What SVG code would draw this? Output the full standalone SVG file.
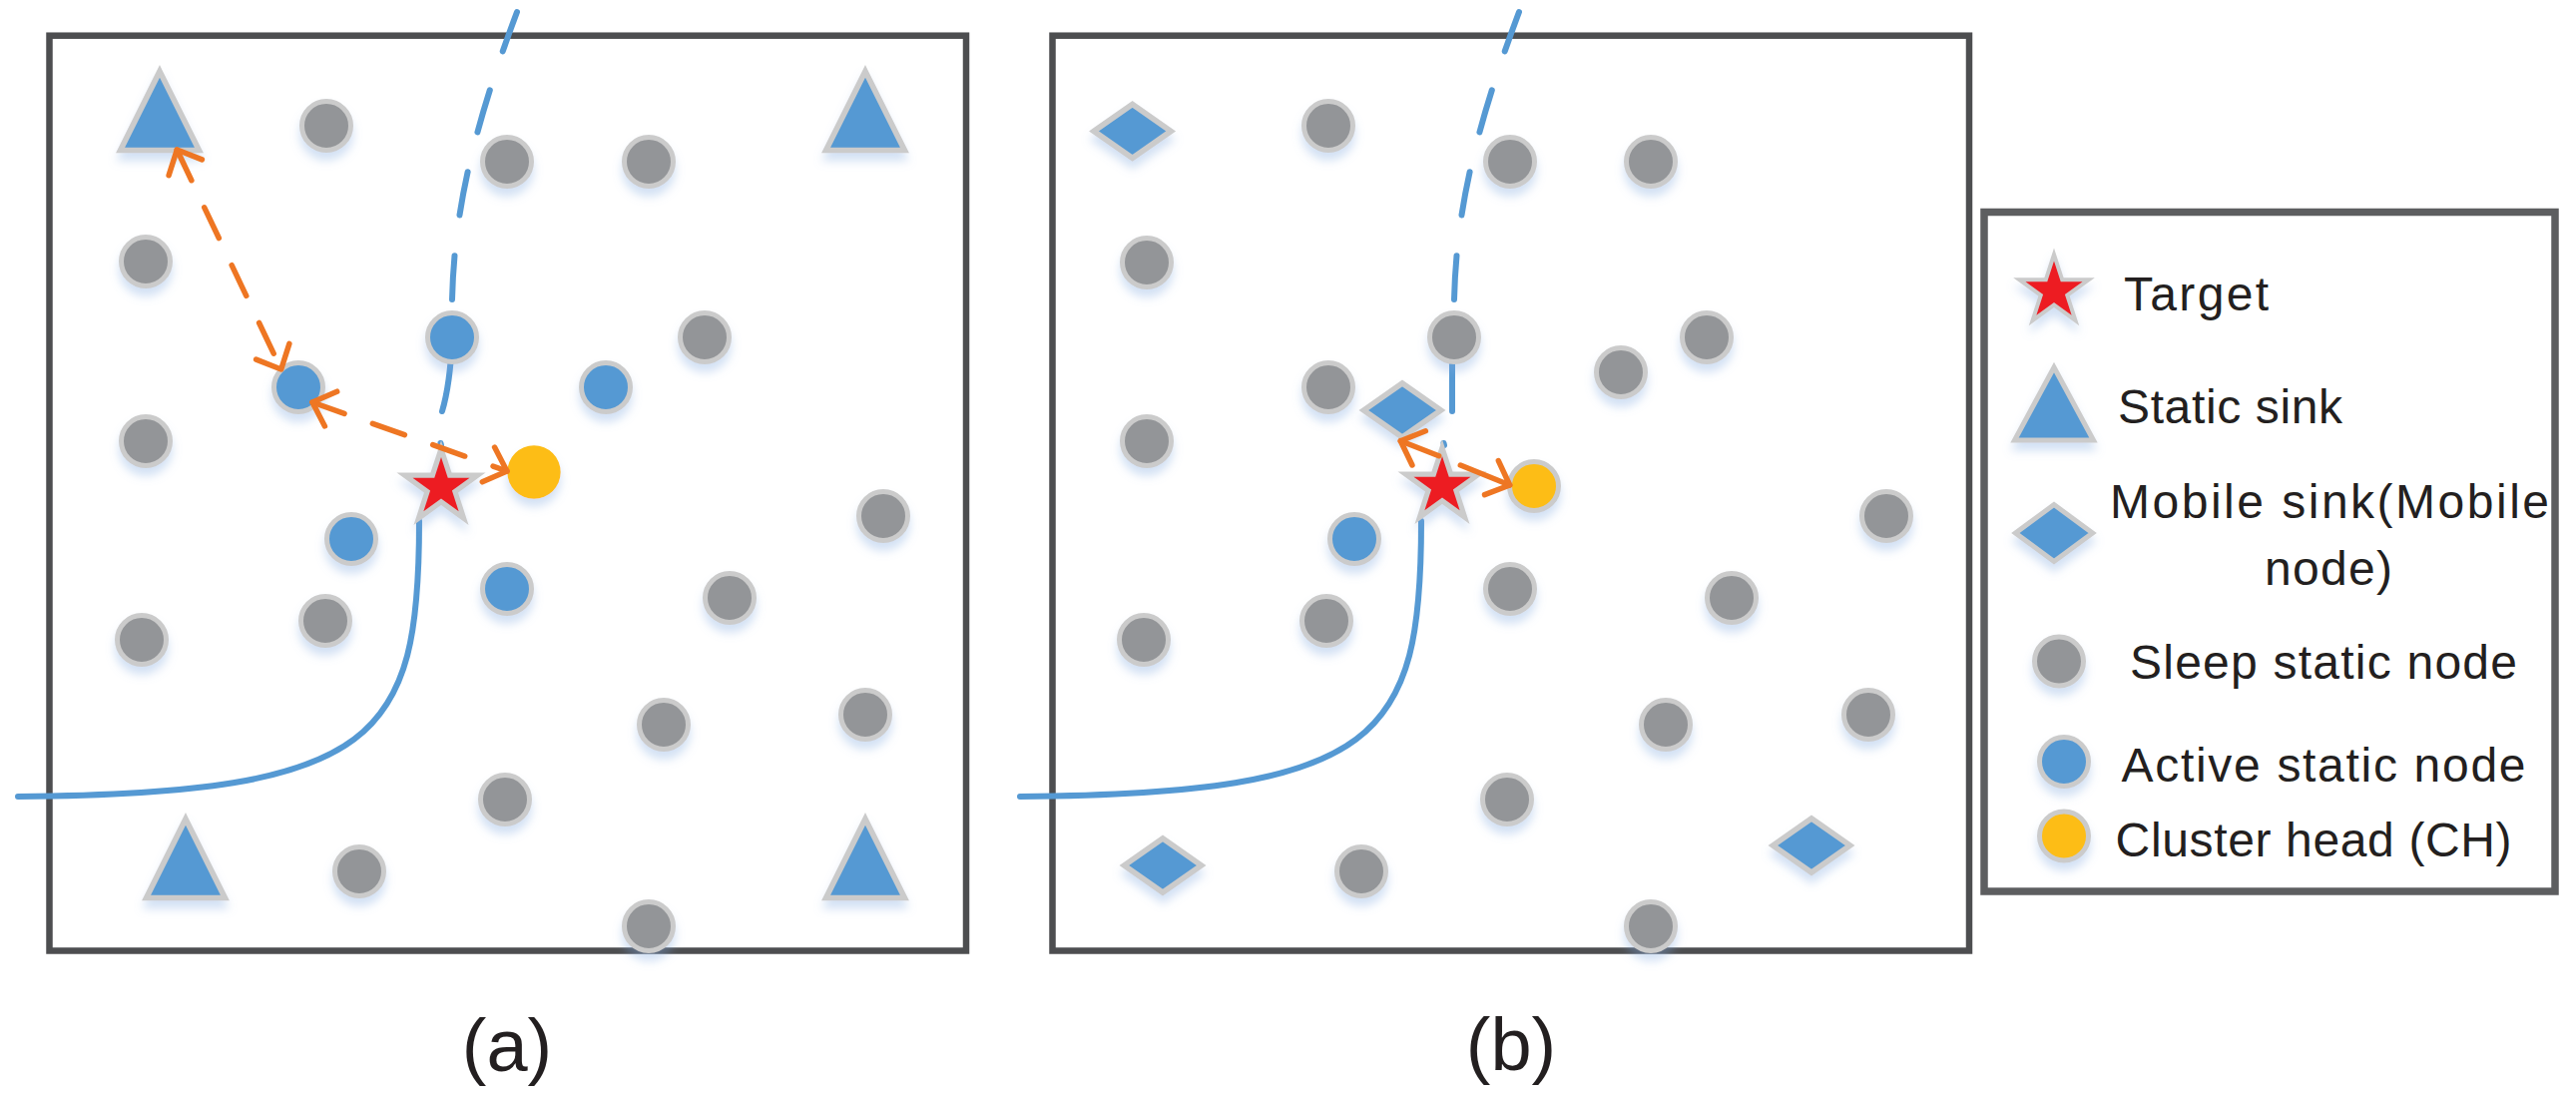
<svg xmlns="http://www.w3.org/2000/svg" width="2581" height="1102" viewBox="0 0 2581 1102">
<defs>
<style>
.frame{fill:none;stroke:#4d4e50;stroke-width:6.5}
.lframe{fill:none;stroke:#5d5e60;stroke-width:7.5}
.sleep{fill:#939598;stroke:#cbcbcb;stroke-width:5;filter:url(#sh)}
.active{fill:#5599d3;stroke:#cbcbcb;stroke-width:5;filter:url(#sh)}
.ch{fill:#fdbd13;filter:url(#sh)}
.ch2{fill:#fdbd13;stroke:#cbcbcb;stroke-width:5;filter:url(#sh)}
.sink{fill:#5599d3;stroke:#cbcbcb;stroke-width:5.6;filter:url(#sh)}
.target{fill:#ed1c24;stroke:#cbcbcb;stroke-width:10.4;paint-order:stroke;filter:url(#sh)}
.ltarget{fill:#ed1c24;stroke:#cbcbcb;stroke-width:8;paint-order:stroke;filter:url(#sh)}
.traj{fill:none;stroke:#5599d3;stroke-width:6;stroke-linecap:round}
.arrow{fill:none;stroke:#ee7623;stroke-width:5.5;stroke-linecap:round}
.dash{stroke-dasharray:34 30}
.tdash{stroke-dasharray:44 41}
.lg{font-family:'Liberation Sans',Arial,sans-serif;font-size:48px;fill:#231f20}
.cap{font-family:'Liberation Sans',Arial,sans-serif;font-size:74px;fill:#231f20;text-anchor:middle}
</style>
<filter id="sh" x="-50%" y="-50%" width="200%" height="220%">
<feDropShadow dx="0" dy="8" stdDeviation="5" flood-color="#7fa7e0" flood-opacity="0.35"/>
</filter>
<marker id="ah" markerUnits="userSpaceOnUse" markerWidth="60" markerHeight="60" refX="0" refY="0" orient="auto-start-reverse" overflow="visible">
<path d="M-19.7,-18.4 L0,0 L-19.7,18.4" fill="none" stroke="#ee7623" stroke-width="5.5" stroke-linecap="round" stroke-linejoin="round"/>
</marker>
<path id="star" d="M0,-30 L6.74,-9.27 L28.53,-9.27 L10.9,3.54 L17.63,24.27 L0,11.46 L-17.63,24.27 L-10.9,3.54 L-28.53,-9.27 L-6.74,-9.27 Z"/>
</defs>
<rect width="2581" height="1102" fill="#ffffff"/>

<g id="frames">
<rect class="frame" x="49.5" y="35.7" width="918.5" height="916.8"/>
<rect class="frame" x="1054.5" y="35.7" width="918.5" height="916.8"/>
</g>

<g id="trajectory">
<path class="traj" d="M18,798 C380,795 420,740 420,522"/>
<path class="traj" d="M441.5,444 L442,446"/>
<path class="traj" d="M453,340 Q451,385 443,412"/>
<path class="traj tdash" d="M453,300 C455,220 470,140 518,12"/>
<path class="traj" d="M1022,798 C1384,795 1424,740 1424,522"/>
<path class="traj" d="M1446.5,444 L1447,446"/>
<path class="traj" d="M1455,340 L1455,412"/>
<path class="traj tdash" d="M1457,300 C1459,220 1474,140 1522,12"/>
</g>

<g id="panel-a-nodes">
<g id="a-sink-1"><polygon class="sink" points="160,71.4 199.4,150.5 120.6,150.5"/></g>
<g id="a-sink-2"><polygon class="sink" points="867,71.4 906.4,150.5 827.6,150.5"/></g>
<g id="a-sink-3"><polygon class="sink" points="186,820.4 225.4,899.5 146.6,899.5"/></g>
<g id="a-sink-4"><polygon class="sink" points="867,820.4 906.4,899.5 827.6,899.5"/></g>
<g id="a-sleep-1"><circle class="sleep" cx="327" cy="126" r="24.5"/></g>
<g id="a-sleep-2"><circle class="sleep" cx="508" cy="162" r="24.5"/></g>
<g id="a-sleep-3"><circle class="sleep" cx="650" cy="162" r="24.5"/></g>
<g id="a-sleep-4"><circle class="sleep" cx="146" cy="262" r="24.5"/></g>
<g id="a-sleep-5"><circle class="sleep" cx="706" cy="338" r="24.5"/></g>
<g id="a-sleep-6"><circle class="sleep" cx="146" cy="442" r="24.5"/></g>
<g id="a-sleep-7"><circle class="sleep" cx="885" cy="517" r="24.5"/></g>
<g id="a-sleep-8"><circle class="sleep" cx="326" cy="622" r="24.5"/></g>
<g id="a-sleep-9"><circle class="sleep" cx="142" cy="641" r="24.5"/></g>
<g id="a-sleep-10"><circle class="sleep" cx="731" cy="599" r="24.5"/></g>
<g id="a-sleep-11"><circle class="sleep" cx="665" cy="726" r="24.5"/></g>
<g id="a-sleep-12"><circle class="sleep" cx="867" cy="716" r="24.5"/></g>
<g id="a-sleep-13"><circle class="sleep" cx="506" cy="801" r="24.5"/></g>
<g id="a-sleep-14"><circle class="sleep" cx="360" cy="873" r="24.5"/></g>
<g id="a-sleep-15"><circle class="sleep" cx="650" cy="928" r="24.5"/></g>
<g id="a-active-1"><circle class="active" cx="453" cy="338" r="24.5"/></g>
<g id="a-active-2"><circle class="active" cx="299" cy="388" r="24.5"/></g>
<g id="a-active-3"><circle class="active" cx="607" cy="388" r="24.5"/></g>
<g id="a-active-4"><circle class="active" cx="352" cy="540" r="24.5"/></g>
<g id="a-active-5"><circle class="active" cx="508" cy="590" r="24.5"/></g>
<g id="a-ch"><circle class="ch" cx="535" cy="473" r="26.7"/></g>
<g id="a-target"><use href="#star" class="target" x="442" y="488"/></g>
</g>

<g id="panel-b-nodes">
<g id="b-msink-1"><path class="sink" d="M1096,131.4 L1134.6,104.4 L1173.2,131.4 L1134.6,158.4 Z"/></g>
<g id="b-msink-2"><path class="sink" d="M1366.4,411 L1405,384 L1443.6,411 L1405,438 Z"/></g>
<g id="b-msink-3"><path class="sink" d="M1126.4,867 L1165,840 L1203.6,867 L1165,894 Z"/></g>
<g id="b-msink-4"><path class="sink" d="M1776.4,847 L1815,820 L1853.6,847 L1815,874 Z"/></g>
<g id="b-sleep-1"><circle class="sleep" cx="1331" cy="126" r="24.5"/></g>
<g id="b-sleep-2"><circle class="sleep" cx="1513" cy="162" r="24.5"/></g>
<g id="b-sleep-3"><circle class="sleep" cx="1654" cy="162" r="24.5"/></g>
<g id="b-sleep-4"><circle class="sleep" cx="1149" cy="263" r="24.5"/></g>
<g id="b-sleep-5"><circle class="sleep" cx="1457" cy="338" r="24.5"/></g>
<g id="b-sleep-6"><circle class="sleep" cx="1710" cy="338" r="24.5"/></g>
<g id="b-sleep-7"><circle class="sleep" cx="1331" cy="388" r="24.5"/></g>
<g id="b-sleep-8"><circle class="sleep" cx="1624" cy="373" r="24.5"/></g>
<g id="b-sleep-9"><circle class="sleep" cx="1149" cy="442" r="24.5"/></g>
<g id="b-sleep-10"><circle class="sleep" cx="1890" cy="517" r="24.5"/></g>
<g id="b-sleep-11"><circle class="sleep" cx="1513" cy="590" r="24.5"/></g>
<g id="b-sleep-12"><circle class="sleep" cx="1735" cy="599" r="24.5"/></g>
<g id="b-sleep-13"><circle class="sleep" cx="1329" cy="622" r="24.5"/></g>
<g id="b-sleep-14"><circle class="sleep" cx="1146" cy="641" r="24.5"/></g>
<g id="b-sleep-15"><circle class="sleep" cx="1669" cy="726" r="24.5"/></g>
<g id="b-sleep-16"><circle class="sleep" cx="1872" cy="716" r="24.5"/></g>
<g id="b-sleep-17"><circle class="sleep" cx="1510" cy="801" r="24.5"/></g>
<g id="b-sleep-18"><circle class="sleep" cx="1364" cy="873" r="24.5"/></g>
<g id="b-sleep-19"><circle class="sleep" cx="1654" cy="928" r="24.5"/></g>
<g id="b-active-1"><circle class="active" cx="1357" cy="540" r="24.5"/></g>
<g id="b-ch"><circle class="ch2" cx="1537" cy="487" r="24.5"/></g>
<g id="b-target"><use href="#star" class="target" x="1445" y="487"/></g>
</g>

<g id="connectors">
<path class="arrow dash" d="M177.3,150 L281.7,370" marker-start="url(#ah)" marker-end="url(#ah)"/>
<path class="arrow dash" d="M313,403 L508,472" marker-start="url(#ah)" marker-end="url(#ah)"/>
<path class="arrow" d="M1441.7,456.7 L1403.3,441.7" marker-end="url(#ah)"/>
<path class="arrow" d="M1463.3,466 L1512.7,486" marker-end="url(#ah)"/>
</g>

<g id="legend">
<rect class="lframe" x="1988" y="212.5" width="572" height="680.5"/>
<g id="legend-target">
<use href="#star" class="ltarget" x="2058" y="291.5"/>
<text class="lg" x="2128" y="310.5" textLength="145" lengthAdjust="spacing">Target</text>
</g>
<g id="legend-static-sink">
<polygon class="sink" points="2058,368 2097.5,441 2018.5,441" style="stroke-width:5"/>
<text class="lg" x="2122" y="424" textLength="225" lengthAdjust="spacing">Static sink</text>
</g>
<g id="legend-mobile-sink">
<path class="sink" d="M2019.4,534 L2058,505.5 L2096.6,534 L2058,562.5 Z" style="stroke-width:5"/>
<text class="lg" x="2114" y="518.5" textLength="440" lengthAdjust="spacing">Mobile sink(Mobile</text>
<text class="lg" x="2269" y="586" textLength="128" lengthAdjust="spacing">node)</text>
</g>
<g id="legend-sleep">
<circle class="sleep" cx="2063" cy="662.5" r="24.5"/>
<text class="lg" x="2134" y="680" textLength="388" lengthAdjust="spacing">Sleep static node</text>
</g>
<g id="legend-active">
<circle class="active" cx="2068" cy="763" r="24.5"/>
<text class="lg" x="2125.5" y="782.5" textLength="405" lengthAdjust="spacing">Active static node</text>
</g>
<g id="legend-ch">
<circle class="ch2" cx="2068" cy="837.5" r="24.5"/>
<text class="lg" x="2119.6" y="858" textLength="397" lengthAdjust="spacing">Cluster head (CH)</text>
</g>
</g>

<g id="captions">
<text class="cap" x="508" y="1073">(a)</text>
<text class="cap" x="1514" y="1072">(b)</text>
</g>
</svg>
